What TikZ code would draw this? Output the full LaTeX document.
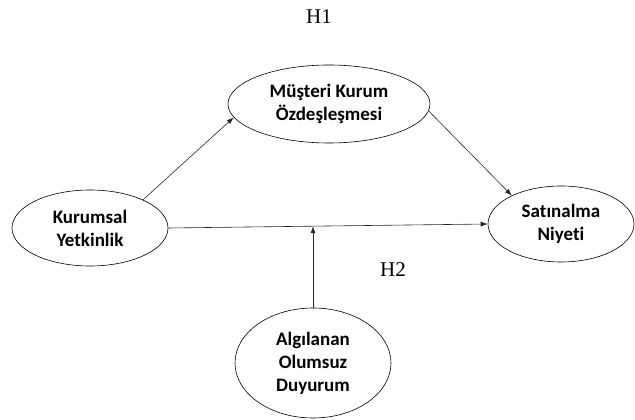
\documentclass[tikz,border=0pt]{standalone}
\usepackage{fontspec}
\setmainfont{Carlito}[Ligatures=NoCommon]
\newfontfamily\hfont{Liberation Serif}
\usetikzlibrary{shapes.geometric,arrows.meta}

\tikzset{
  var/.style={ellipse, draw, line width=0.6pt, inner sep=0pt, align=center,
    font=\bfseries\fontsize{19}{23}\selectfont},
  link/.style={-{Latex[length=7pt,width=5pt]}, line width=0.6pt, black!85},
  hyp/.style={font=\hfont\fontsize{21}{24}\selectfont}
}

\begin{document}
\begin{tikzpicture}[x=1pt, y=1pt]

      \useasboundingbox (0, 0) rectangle (635, 420);

      \node[var, minimum width=202, minimum height=78] (mus) at (329, 316) {Müşteri Kurum\\Özdeşleşmesi};
      \node[var, minimum width=156, minimum height=76] (kur) at (90, 192) {Kurumsal\\Yetkinlik};
      \node[var, minimum width=146, minimum height=76] (sat) at (561, 196) {Satınalma\\Niyeti};
      \node[var, minimum width=156, minimum height=110] (alg) at (313, 57) {Algılanan\\Olumsuz\\Duyurum};

      \node[hyp] (h1) at (319, 403) {H1};
      \node[hyp] (h2) at (393, 150) {H2};

      \draw[link] (kur.28) -- (mus.188);
      \draw[link] (mus.-4) -- (sat.150);
      \draw[link] (kur.east) -- (sat.west) coordinate[pos=0.45] (m);

      % moderator arrow onto the direct path
      \draw[link] (alg.north) -- (alg.north |- m);

    \end{tikzpicture}
\end{document}
